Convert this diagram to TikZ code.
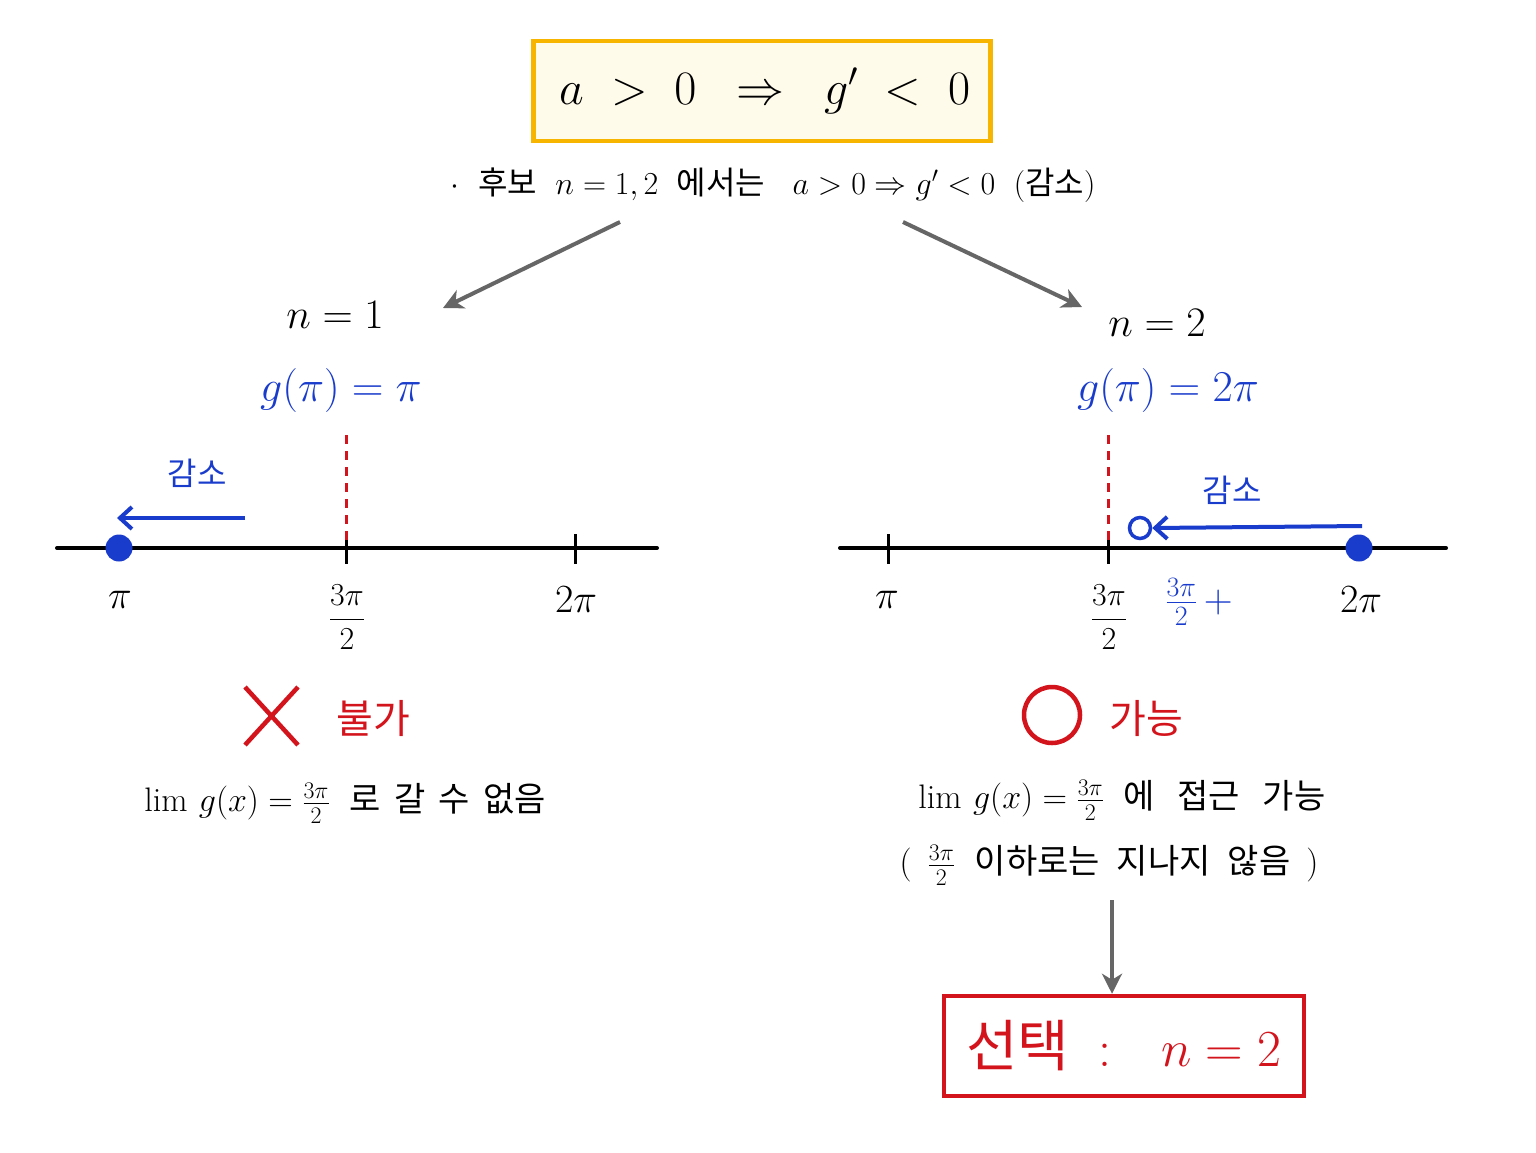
\RequirePackage{fix-cm}
\documentclass[tikz,border=0pt]{standalone}
\usepackage{amsmath}
\usepackage{fontspec}
\newfontfamily\kr{Noto Sans CJK KR}
\usetikzlibrary{arrows.meta}
\definecolor{myblue}{HTML}{1A3CCC}
\definecolor{myred}{HTML}{D4141C}
\definecolor{mygray}{HTML}{666666}
\definecolor{myyellow}{HTML}{F7B500}
\definecolor{mycream}{HTML}{FFFBEB}
\tikzset{
  fs/.style={font=\fontsize{#1}{#1}\selectfont},
  axisline/.style={line width=4pt, black, line cap=round},
  tickmark/.style={line width=3pt, black},
  guide/.style={myred, line width=3pt, dash pattern=on 9pt off 7pt},
  flowarrow/.style={mygray, line width=4pt, -{Stealth[length=20pt,width=20pt,inset=6pt]}},
  bluearrow/.style={myblue, line width=4pt, -{Straight Barb[length=12pt,width=22pt,line width=4pt]}},
  dot/.style={circle, fill=myblue, inner sep=0pt, minimum size=27pt},
  odot/.style={circle, draw=myblue, line width=3.5pt, inner sep=0pt, minimum size=21pt},
  lbl/.style={inner sep=0pt, anchor=center},
}
\begin{document}
\begin{tikzpicture}[x=1pt,y=-1pt]
\useasboundingbox (0,0) rectangle (1536,1152);
\fill[white] (0,0) rectangle (1536,1152);

% title
\node[draw=myyellow, fill=mycream, line width=4.5pt, minimum width=457pt, minimum height=100pt] (title) at (762,91) {};
\node[lbl, fs=48] (titletext) at (765,91) {$a \;>\; 0 \;\;\Rightarrow\;\; g' \;<\; 0$};
\node[lbl, fs=32] (sub) at (773,185) {$\cdot$\; {\kr 후보}\; $n=1,2$\; {\kr 에서는}\;\; $a>0\Rightarrow g'<0$\; ({\kr 감소})};

\coordinate (la) at (620,222);
\coordinate (ra) at (903,222);
\node[lbl, fs=42] (n1) at (335,315) {$n=1$};
\node[lbl, fs=42] (n2) at (1157,323) {$n=2$};
\draw[flowarrow] (la) -- (443,308) coordinate (lae);
\draw[flowarrow] (ra) -- (1082,307) coordinate (rae);

% left branch
\node[lbl, fs=44, myblue] (g1) at (341,390) {$g(\pi)=\pi$};
\coordinate (L0) at (57,548);
\coordinate (L1) at (657,548);
\draw[axisline] (L0) -- (L1);
\draw[tickmark] (346,534) -- (346,564);
\draw[tickmark] (575,534) -- (575,564);
\draw[guide] (346,435) -- (346,540);
\node[dot] (d1) at (119,548) {};
\coordinate (b1s) at (245,518);
\coordinate (b1e) at (117,518);
\draw[bluearrow] (b1s) -- (b1e);
\node[lbl, fs=32, myblue] (dec1) at (197,473) {\kr 감소};
\node[lbl, fs=40] (lp1) at (120,600) {$\pi$};
\node[lbl, fs=32] (lp2) at (347,617) {$\dfrac{3\pi}{2}$};
\node[lbl, fs=40] (lp3) at (576,600) {$2\pi$};

\draw[myred, line width=4.5pt] (245,687) -- (298,745) (298,687) -- (245,745);
\node[lbl, fs=40, myred] (no) at (373,718) {\kr 불가};
\node[lbl, fs=34] (lim1) at (345,803) {$\lim\, g(x) = \tfrac{3\pi}{2}$\; {\kr 로\, 갈\, 수\, 없음}};

% right branch
\node[lbl, fs=44, myblue] (g2) at (1168,390) {$g(\pi)=2\pi$};
\coordinate (R0) at (840,548);
\coordinate (R1) at (1446,548);
\draw[axisline] (R0) -- (R1);
\draw[tickmark] (888,534) -- (888,564);
\draw[tickmark] (1108,534) -- (1108,564);
\draw[guide] (1108,435) -- (1108,540);
\node[dot] (d2) at (1359,548) {};
\node[odot] (o2) at (1140,528) {};
\coordinate (b2s) at (1362,526);
\draw[bluearrow] (b2s) -- (o2.east);
\node[lbl, fs=32, myblue] (dec2) at (1232,490) {\kr 감소};
\node[lbl, fs=40] (rp1) at (887,600) {$\pi$};
\node[lbl, fs=32] (rp2) at (1109,617) {$\dfrac{3\pi}{2}$};
\node[lbl, fs=40, myblue] (rp3) at (1199,602) {$\tfrac{3\pi}{2}\,+$};
\node[lbl, fs=40] (rp4) at (1361,600) {$2\pi$};

\node[circle, draw=myred, line width=4.5pt, minimum size=56pt, inner sep=0pt] (yes) at (1052,715) {};
\node[lbl, fs=40, myred] (ok) at (1146,718) {\kr 가능};
\node[lbl, fs=34] (lim2) at (1122,800) {$\lim\, g(x) = \tfrac{3\pi}{2}$\; {\kr 에\;\, 접근\;\, 가능}};
\node[lbl, fs=34] (note) at (1109,865) {(\, $\tfrac{3\pi}{2}$\; {\kr 이하로는\; 지나지\; 않음}\, )};

\node[draw=myred, line width=4.5pt, minimum width=360pt, minimum height=100pt] (choice) at (1124,1046) {};
\node[lbl, fs=52, text=myred] (choicetext) at (1124,1046) {{\fontsize{56}{56}\selectfont\kr 선택}\;\;:\;\; $n = 2$};
\draw[flowarrow] (1112,900) -- (choice.north -| 1112,0);
\end{tikzpicture}
\end{document}
